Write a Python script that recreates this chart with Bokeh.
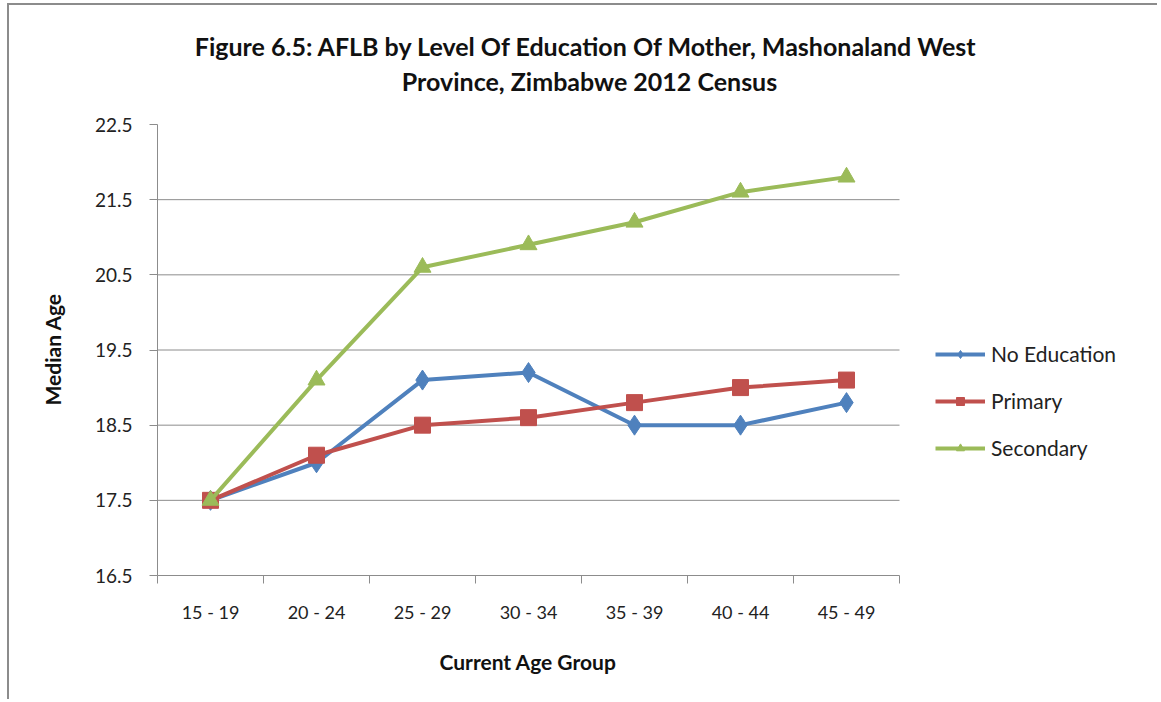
from bokeh.plotting import figure
from bokeh.models import FixedTicker, Legend, LegendItem, Label, Title
from bokeh.embed import file_html
from bokeh.resources import INLINE

categories = ["15 - 19", "20 - 24", "25 - 29", "30 - 34", "35 - 39", "40 - 44", "45 - 49"]
no_education = [17.5, 18.0, 19.1, 19.2, 18.5, 18.5, 18.8]
primary = [17.5, 18.1, 18.5, 18.6, 18.8, 19.0, 19.1]
secondary = [17.5, 19.1, 20.6, 20.9, 21.2, 21.6, 21.8]
y_ticks = [16.5, 17.5, 18.5, 19.5, 20.5, 21.5, 22.5]

FONT = "Lato"
GRAY = "#8c8c8c"
TXT = "#222222"

W, H = 1150, 696
# where the plotting area of the chart sits, in canvas pixels
AX_L, AX_R, AX_T, AX_B = 148, 890, 119, 570

n = len(categories)
y0, y1 = y_ticks[0], y_ticks[-1]
# the frame covers the whole canvas right/top of the axes so that the title and
# legend (drawn as annotations) are not clipped; axes are bounded to the data area
x_end = n * (W - AX_L) / (AX_R - AX_L)
y_end = y0 + (y1 - y0) * (AX_B - 0) / (AX_B - AX_T)

p = figure(width=W, height=H, output_backend="svg", toolbar_location=None,
           x_range=(0, x_end), y_range=(y0, y_end),
           min_border_left=AX_L, min_border_right=0,
           min_border_top=0, min_border_bottom=H - AX_B)
p.outline_line_color = None
p.background_fill_color = "white"
p.border_fill_color = "white"
p.styles = {"border-left": "2px solid #8c8c8c", "border-top": "2px solid #8c8c8c",
            "margin-left": "7px", "margin-top": "3px"}

xs = [i + 0.5 for i in range(n)]

# horizontal gridlines limited to the data area
grid_vals = y_ticks[1:-1]
p.segment(x0=[0] * len(grid_vals), x1=[n] * len(grid_vals), y0=grid_vals, y1=grid_vals,
          line_color=GRAY, line_width=1)

# x axis: labels at category centres, tick marks between categories
p.xaxis.bounds = (0, n)
p.xaxis.ticker = FixedTicker(ticks=xs, minor_ticks=list(range(n + 1)))
p.xaxis.major_label_overrides = {x: c for x, c in zip(xs, categories)}
p.xaxis.major_tick_out = 0
p.xaxis.major_tick_in = 0
p.xaxis.minor_tick_out = 8
p.xaxis.minor_tick_in = 0
p.xaxis.minor_tick_line_color = GRAY
p.xaxis.axis_line_color = GRAY
p.xaxis.major_label_standoff = 17
p.xaxis.major_label_text_font = FONT
p.xaxis.major_label_text_font_size = "18px"
p.xaxis.major_label_text_color = TXT

# y axis
p.yaxis.bounds = (y0, y1)
p.yaxis.ticker = FixedTicker(ticks=y_ticks, minor_ticks=[])
p.yaxis.major_label_overrides = {t: f"{t:.1f}" for t in y_ticks}
p.yaxis.major_tick_out = 8
p.yaxis.major_tick_in = 0
p.yaxis.major_tick_line_color = GRAY
p.yaxis.axis_line_color = GRAY
p.yaxis.major_label_standoff = 17
p.yaxis.major_label_text_font = FONT
p.yaxis.major_label_text_font_size = "19px"
p.yaxis.major_label_text_color = TXT

p.xgrid.grid_line_color = None
p.ygrid.grid_line_color = None

# axis titles, placed against the data area rather than the whole frame
p.add_layout(Title(text="Current Age Group", align="left", offset=282, standoff=46,
                   vertical_align="top", text_font=FONT, text_font_style="bold",
                   text_font_size="21px", text_color="#111111"), "below")
p.add_layout(Title(text="Median Age", align="left", offset=170, standoff=54,
                   vertical_align="bottom", text_font=FONT, text_font_style="bold",
                   text_font_size="21px", text_color="#111111"), "left")

series = [
    ("No Education", no_education, "#4F81BD", "diamond", 20),
    ("Primary", primary, "#C0504D", "square", 16),
    ("Secondary", secondary, "#9BBB59", "triangle", 17),
]
items = []
for name, vals, col, mk, sz in series:
    ln = p.line(xs, vals, line_color=col, line_width=4)
    sc = p.scatter(xs, vals, marker=mk, size=sz, fill_color=col, line_color=col)
    items.append(LegendItem(label=name, renderers=[ln, sc]))

legend = Legend(items=items, location=(778, 115), glyph_width=50, glyph_height=20,
                label_height=20, label_standoff=6, spacing=22, padding=0, margin=0,
                border_line_color=None, background_fill_alpha=0,
                label_text_font=FONT, label_text_font_size="21px",
                label_text_color=TXT)
p.add_layout(legend, "center")

title_lines = ["Figure 6.5: AFLB by Level Of Education Of Mother, Mashonaland  West",
               "Province, Zimbabwe 2012 Census"]
for txt, yy in zip(title_lines, [530, 495]):
    p.add_layout(Label(x=432, y=yy, x_units="screen", y_units="screen", text=txt,
                       text_align="center", text_baseline="middle",
                       text_font=FONT, text_font_style="bold",
                       text_font_size="25px", text_color="#111111"))

open("out.html", "w").write(file_html(p, INLINE))
